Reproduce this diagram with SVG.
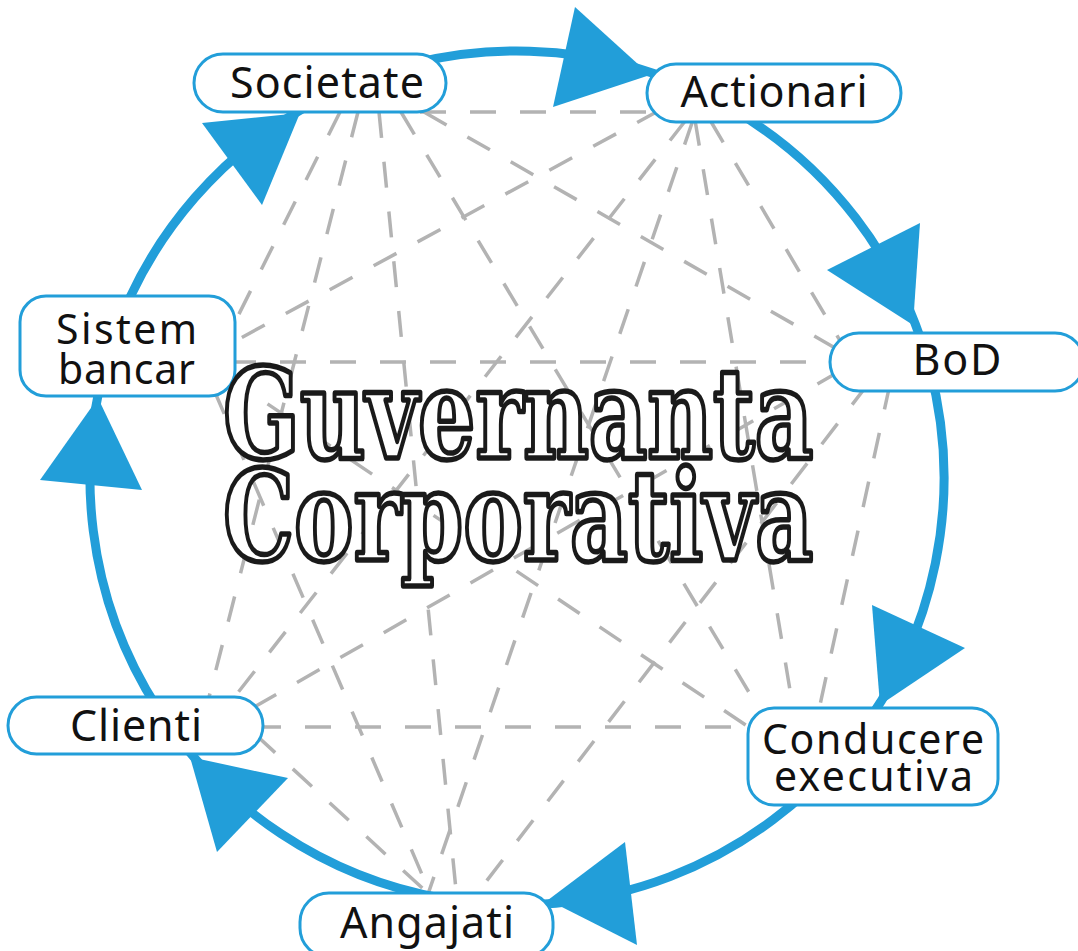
<svg xmlns="http://www.w3.org/2000/svg" width="1078" height="951" viewBox="0 0 1078 951">
<style>
.dash{stroke:#b3b3b3;stroke-width:3.5;stroke-dasharray:26 24;fill:none}
.ring{fill:none;stroke:#229ed9;stroke-width:9}
.head{fill:#229ed9}
.box{fill:#fff;stroke:#229ed9;stroke-width:3}
.lbl{font-family:"Noto Sans","Open Sans","DejaVu Sans",sans-serif;font-size:43px;fill:#111;text-anchor:middle}
.lbl2{font-size:41px}
.title{font-family:"DejaVu Serif","Liberation Serif",serif;font-size:126px;font-weight:bold;fill:#fff;stroke:#1a1a1a;stroke-width:5.5;stroke-linejoin:round;text-anchor:middle}
</style>
<rect width="1078" height="951" fill="#fff"/>
<g id="connectors">
  <g id="links">
    <line class="dash" x1="420" y1="112" x2="660" y2="112"/>
    <line class="dash" x1="340" y1="112" x2="234" y2="324"/>
    <line class="dash" x1="358" y1="112" x2="207" y2="705"/>
    <line class="dash" x1="379" y1="112" x2="457" y2="900"/>
    <line class="dash" x1="401" y1="112" x2="762" y2="714"/>
    <line class="dash" x1="424" y1="112" x2="842" y2="352"/>
    <line class="dash" x1="660" y1="110" x2="228" y2="345"/>
    <line class="dash" x1="686" y1="120" x2="229" y2="704"/>
    <line class="dash" x1="693" y1="120" x2="426" y2="900"/>
    <line class="dash" x1="695" y1="120" x2="794" y2="714"/>
    <line class="dash" x1="710" y1="120" x2="842" y2="344"/>
    <line class="dash" x1="230" y1="362" x2="836" y2="362"/>
    <line class="dash" x1="840" y1="371" x2="256" y2="706"/>
    <line class="dash" x1="868" y1="384" x2="475" y2="896"/>
    <line class="dash" x1="890" y1="384" x2="818" y2="714"/>
    <line class="dash" x1="226" y1="376" x2="756" y2="732"/>
    <line class="dash" x1="255" y1="727" x2="755" y2="727"/>
    <line class="dash" x1="214" y1="390" x2="433" y2="900"/>
    <line class="dash" x1="256" y1="735" x2="432" y2="897"/>
  </g>
  <g id="cycle">
    <path class="ring" d="M325.8 96.2 A427 427 0 0 1 730.5 108.2"/>
    <path class="ring" d="M730.5 108.2 A427 427 0 0 1 929.6 368.2"/>
    <path class="ring" d="M929.6 368.2 A427 427 0 0 1 853.5 740.9"/>
    <path class="ring" d="M853.5 740.9 A427 427 0 0 1 442.9 898.5"/>
    <path class="ring" d="M442.9 898.5 A427 427 0 0 1 158.5 709.9"/>
    <path class="ring" d="M158.5 709.9 A427 427 0 0 1 112.5 341.1"/>
    <path class="ring" d="M112.5 341.1 A427 427 0 0 1 325.8 96.2"/>
    <polygon class="head" points="575,7 553,107 650,75"/>
    <polygon class="head" points="920,223 827,270 913,325"/>
    <polygon class="head" points="872,605 965,648 880,705"/>
    <polygon class="head" points="625,842 637,945 548,900"/>
    <polygon class="head" points="288,778 217,852 190,757"/>
    <polygon class="head" points="40,480 142,490 98,398"/>
    <polygon class="head" points="202,123 262,205 300,113"/>
  </g>
</g>
<g id="societate">
  <rect class="box" x="194" y="54" width="252" height="58" rx="29"/>
  <text class="lbl" x="327" y="98" textLength="194">Societate</text>
</g>
<g id="actionari">
  <rect class="box" x="647" y="64" width="254" height="58" rx="29"/>
  <text class="lbl" x="774" y="107" textLength="187">Actionari</text>
</g>
<g id="bod">
  <rect class="box" x="830" y="333" width="254" height="58" rx="29"/>
  <text class="lbl" x="957" y="375" textLength="89">BoD</text>
</g>
<g id="conducere">
  <rect class="box" x="748" y="708" width="250" height="97" rx="26"/>
  <text class="lbl lbl2" x="873" y="754" textLength="222">Conducere</text>
  <text class="lbl lbl2" x="873.5" y="791" textLength="199">executiva</text>
</g>
<g id="angajati">
  <rect class="box" x="300" y="893" width="253" height="64" rx="29"/>
  <text class="lbl" x="427" y="938" textLength="174">Angajati</text>
</g>
<g id="clienti">
  <rect class="box" x="8" y="697" width="255" height="57" rx="28.5"/>
  <text class="lbl" x="136" y="741" textLength="132">Clienti</text>
</g>
<g id="sistem-bancar">
  <rect class="box" x="20" y="296" width="215" height="100" rx="26"/>
  <text class="lbl lbl2" x="126.5" y="344" textLength="141">Sistem</text>
  <text class="lbl lbl2" x="126.5" y="384" textLength="137">bancar</text>
</g>
<g id="title" transform="scale(0.75 1)">
  <text class="title" x="690.7" y="458" textLength="787" lengthAdjust="spacingAndGlyphs">Guvernanta</text>
  <text class="title" x="690.7" y="560" textLength="787" lengthAdjust="spacingAndGlyphs">Corporativa</text>
</g>
</svg>
